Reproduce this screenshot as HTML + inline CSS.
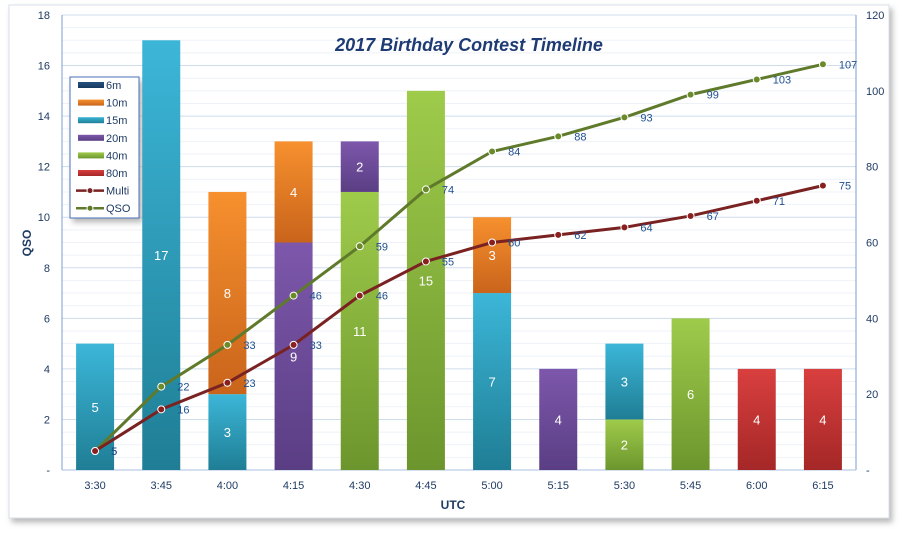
<!DOCTYPE html><html><head><meta charset="utf-8"><style>
body{margin:0;background:#fff;width:900px;height:530px;overflow:hidden;font-family:"Liberation Sans",sans-serif}
</style></head><body>
<svg id="s" width="900" height="530" xmlns="http://www.w3.org/2000/svg" font-family="Liberation Sans, sans-serif">
<defs>
<filter id="sh" x="-5%" y="-5%" width="110%" height="115%"><feDropShadow dx="3" dy="4" stdDeviation="3" flood-color="#888" flood-opacity="0.6"/></filter>
<linearGradient id="g15" x1="0" y1="0" x2="0" y2="1"><stop offset="0" stop-color="#3cb6d8"/><stop offset="1" stop-color="#1f7e95"/></linearGradient>
<linearGradient id="g10" x1="0" y1="0" x2="0" y2="1"><stop offset="0" stop-color="#f7902e"/><stop offset="1" stop-color="#c9641b"/></linearGradient>
<linearGradient id="g20" x1="0" y1="0" x2="0" y2="1"><stop offset="0" stop-color="#7d57ab"/><stop offset="1" stop-color="#5a3e84"/></linearGradient>
<linearGradient id="g40" x1="0" y1="0" x2="0" y2="1"><stop offset="0" stop-color="#9fcb4b"/><stop offset="1" stop-color="#6c962d"/></linearGradient>
<linearGradient id="g80" x1="0" y1="0" x2="0" y2="1"><stop offset="0" stop-color="#d93f3f"/><stop offset="1" stop-color="#a52727"/></linearGradient>
<linearGradient id="g6" x1="0" y1="0" x2="0" y2="1"><stop offset="0" stop-color="#24507f"/><stop offset="1" stop-color="#163a60"/></linearGradient>
</defs>
<rect x="9" y="5" width="880" height="513" fill="#fff" stroke="#d8e0ea" filter="url(#sh)"/>
<g id="g"></g>
</svg>
<script>
var g=document.getElementById('g'),h='';
var L=62,R=856,T=15,B=470,cw=(R-L)/12;
function yl(v){return B-(B-T)*v/18}function yr(v){return B-(B-T)*v/120}
for(var v=0;v<=18;v+=0.5){var y=yl(v);h+='<line x1="'+L+'" x2="'+R+'" y1="'+y+'" y2="'+y+'" stroke="'+(v%2==0?'#cfdcec':'#eef2f8')+'" stroke-width="1"/>';}
h+='<line x1="'+L+'" x2="'+L+'" y1="'+T+'" y2="'+B+'" stroke="#7a9cd0"/><line x1="'+R+'" x2="'+R+'" y1="'+T+'" y2="'+B+'" stroke="#7a9cd0"/><line x1="'+L+'" x2="'+R+'" y1="'+B+'" y2="'+B+'" stroke="#a9c0e0"/>';
for(var v=0;v<=18;v+=2)h+='<text x="50" y="'+(yl(v)+4)+'" font-size="11" fill="#1f3b63" text-anchor="end">'+(v?v:'-')+'</text>';
for(var v=0;v<=120;v+=20)h+='<text x="866" y="'+(yr(v)+4)+'" font-size="11" fill="#1f3b63">'+(v?v:'-')+'</text>';
var cats=['3:30','3:45','4:00','4:15','4:30','4:45','5:00','5:15','5:30','5:45','6:00','6:15'];
var bars=[[['15',5]],[['15',17]],[['15',3],['10',8]],[['20',9],['10',4]],[['40',11],['20',2]],[['40',15]],[['15',7],['10',3]],[['20',4]],[['40',2],['15',3]],[['40',6]],[['80',4]],[['80',4]]];
var M=[5,16,23,33,46,55,60,62,64,67,71,75],Q=[5,22,33,46,59,74,84,88,93,99,103,107];
var xs=[];
for(var i=0;i<12;i++){var x=L+cw*(i+0.5);xs.push(x);var b=0;
bars[i].forEach(function(s){var y1=yl(b+s[1]),y0=yl(b);h+='<rect x="'+(x-19)+'" y="'+y1+'" width="38" height="'+(y0-y1)+'" fill="url(#g'+s[0]+')"/>';
h+='<text x="'+x+'" y="'+((y0+y1)/2+5)+'" font-size="13" fill="#fff" text-anchor="middle">'+s[1]+'</text>';b+=s[1];});
h+='<text x="'+x+'" y="489" font-size="11" fill="#1f3b63" text-anchor="middle">'+cats[i]+'</text>';}
function line(d,c,mc){var p=d.map(function(v,i){return xs[i]+','+yr(v)}).join(' ');
h+='<polyline points="'+p+'" fill="none" stroke="'+c+'" stroke-width="3"/>';
d.forEach(function(v,i){h+='<circle cx="'+xs[i]+'" cy="'+yr(v)+'" r="3.5" fill="'+mc+'" stroke="#fff" stroke-width="1"/><text x="'+(xs[i]+16)+'" y="'+(yr(v)+4)+'" font-size="11" fill="#1f4f8f">'+v+'</text>';});}
line(Q,'#5f7a2a','#6b8a2a');line(M,'#7a2222','#8a1f1f');
h+='<text x="469" y="51" font-size="18" font-weight="bold" font-style="italic" fill="#1f3b73" text-anchor="middle">2017 Birthday  Contest Timeline</text>';
h+='<text x="453" y="509" font-size="12" font-weight="bold" fill="#1f3b63" text-anchor="middle">UTC</text>';
h+='<text transform="translate(31,243) rotate(-90)" font-size="12" font-weight="bold" fill="#1f3b63" text-anchor="middle">QSO</text>';
h+='<rect x="70" y="77" width="69" height="141" fill="#fff" stroke="#4a72b8" filter="url(#sh)"/>';
var lg=[['6','6m'],['10','10m'],['15','15m'],['20','20m'],['40','40m'],['80','80m']];
lg.forEach(function(l,i){var y=85+i*17.6;h+='<rect x="78" y="'+(y-3)+'" width="26" height="6" fill="url(#g'+l[0]+')"/><text x="106" y="'+(y+4)+'" font-size="11" fill="#1f3b63">'+l[1]+'</text>';});
[['#7a2222','Multi'],['#5f7a2a','QSO']].forEach(function(l,i){var y=85+(6+i)*17.6;h+='<line x1="76" x2="104" y1="'+y+'" y2="'+y+'" stroke="'+l[0]+'" stroke-width="2.5"/><circle cx="90" cy="'+y+'" r="3" fill="'+l[0]+'" stroke="#fff"/><text x="106" y="'+(y+4)+'" font-size="11" fill="#1f3b63">'+l[1]+'</text>';});
g.innerHTML=h;
</script></body></html>
